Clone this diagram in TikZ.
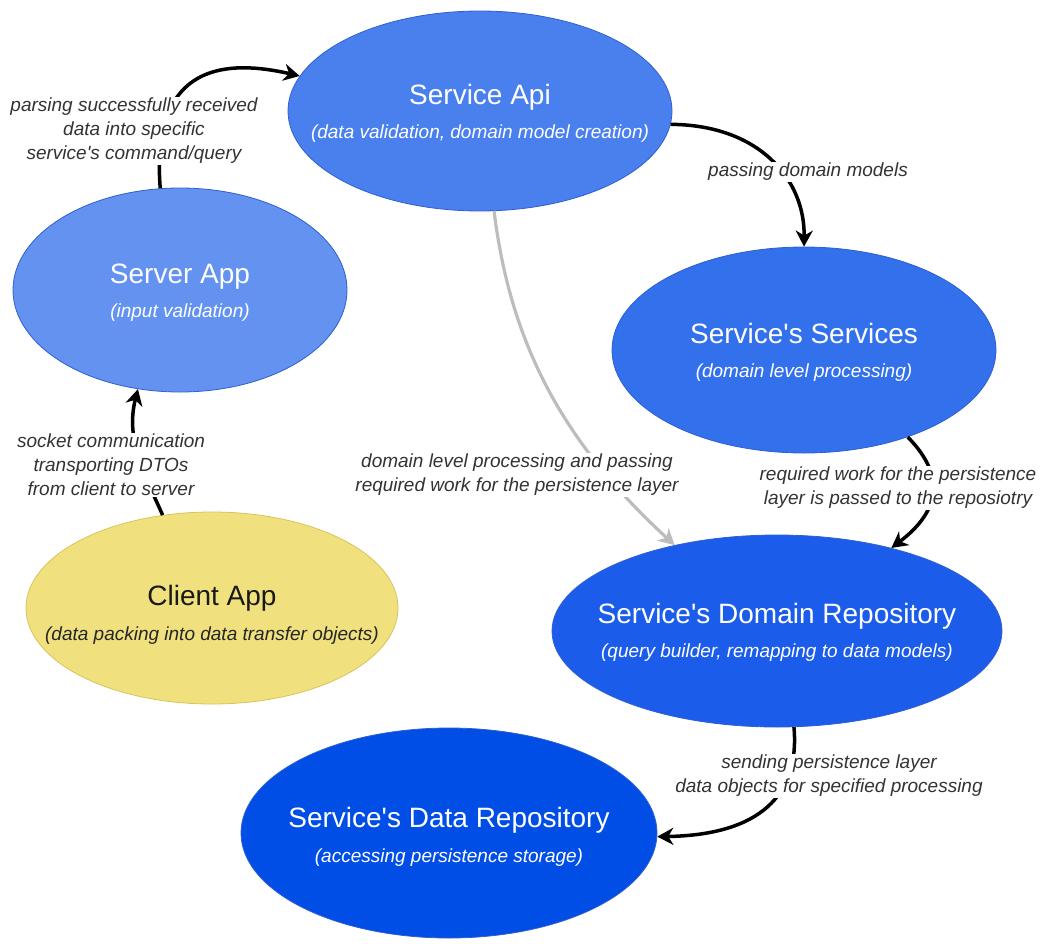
\documentclass[tikz,border=0pt]{standalone}
\usepackage{fontspec}
\setmainfont{Liberation Sans}
\usetikzlibrary{shapes.geometric,arrows.meta}

\definecolor{apiblue}{HTML}{4A80EE}
\definecolor{srvblue}{HTML}{6392F0}
\definecolor{svcblue}{HTML}{3370EB}
\definecolor{domblue}{HTML}{1B5DEA}
\definecolor{datblue}{HTML}{004EE6}
\definecolor{edgeblue}{HTML}{2F5FD0}
\definecolor{cliyellow}{HTML}{F0E17E}
\definecolor{cliedge}{HTML}{D8C35C}
\definecolor{labelgray}{HTML}{333333}
\definecolor{flowgray}{HTML}{BDBDBD}

% straight apostrophe
\newcommand{\apos}{\textquotesingle}

\tikzset{
  blob/.style={ellipse, draw=edgeblue, line width=0.8pt, inner sep=0pt},
  ttl/.style={anchor=base, font=\fontsize{28}{32}\selectfont, text=white, inner sep=0pt},
  sub/.style={anchor=base, font=\fontsize{19}{23}\selectfont\itshape, text=white, inner sep=0pt},
  elabel/.style={fill=white, align=center, inner sep=1.5pt, text=labelgray,
    font=\fontsize{19}{24}\selectfont\itshape},
  flow/.style={line width=3.5pt, -{Stealth[length=16pt,width=17pt,inset=5pt]}},
  softflow/.style={line width=3.2pt, draw=flowgray,
    -{Stealth[length=16pt,width=17pt,inset=5pt,fill=flowgray]}}
}

\begin{document}
\begin{tikzpicture}[x=1pt,y=-1pt]
\useasboundingbox (0,0) rectangle (1044,943);

% components
\node[blob, fill=apiblue, minimum width=384pt, minimum height=200pt] (api) at (480,111) {};
\node[blob, fill=srvblue, minimum width=334pt, minimum height=204pt] (srv) at (180,290) {};
\node[blob, fill=svcblue, minimum width=384pt, minimum height=206pt] (svc) at (804,350) {};
\node[ellipse, draw=cliedge, line width=0.8pt, fill=cliyellow, inner sep=0pt,
      minimum width=372pt, minimum height=192pt] (cli) at (212,608) {};
\node[blob, fill=domblue, minimum width=450pt, minimum height=192pt] (dom) at (777,631) {};
\node[blob, fill=datblue, minimum width=416pt, minimum height=210pt] (dat) at (449,833) {};

% captions
\node[ttl] (api-t) at (480,104) {Service Api};
\node[sub] (api-s) at (480,138) {(data validation, domain model creation)};
\node[ttl] (srv-t) at (180,283) {Server App};
\node[sub] (srv-s) at (180,317) {(input validation)};
\node[ttl] (svc-t) at (804,343) {Service\apos s Services};
\node[sub] (svc-s) at (804,377) {(domain level processing)};
\node[ttl, text=black!90] (cli-t) at (212,605) {Client App};
\node[sub, text=black!85] (cli-s) at (212,640) {(data packing into data transfer objects)};
\node[ttl] (dom-t) at (777,623) {Service\apos s Domain Repository};
\node[sub] (dom-s) at (777,657) {(query builder, remapping to data models)};
\node[ttl] (dat-t) at (449,827) {Service\apos s Data Repository};
\node[sub] (dat-s) at (449,862) {(accessing persistence storage)};

% connectors
\draw[flow] (cli.118.5) .. controls (145,475) and (125,440) .. (srv.247.3);
\draw[flow] (srv.101.1) .. controls (150,60) and (230,60) .. (api.169.7);
\draw[flow] (api.356.7) .. controls (760,125) and (805,180) .. (svc.90);
\draw[softflow] (api.278.4) .. controls (510,340) and (560,440) .. (dom.140);
\draw[flow] (svc.320.4) .. controls (950,480) and (935,515) .. (dom.36.3);
\draw[flow] (dom.280.6) .. controls (800,795) and (760,835) .. (dat.359);

% connector labels
\node[elabel] (lbl-parse) at (134,131) {parsing successfully received\\data into specific\\service\apos s command/query};
\node[elabel] (lbl-socket) at (111,465) {socket communication\\transporting DTOs\\from client to server};
\node[elabel] (lbl-models) at (808,172) {passing domain models};
\node[elabel] (lbl-domain) at (517,475) {domain level processing and passing\\required work for the persistence layer};
\node[elabel] (lbl-work) at (898,488) {required work for the persistence\\layer is passed to the reposiotry};
\node[elabel] (lbl-send) at (829,776) {sending persistence layer\\data objects for specified processing};
\end{tikzpicture}
\end{document}
